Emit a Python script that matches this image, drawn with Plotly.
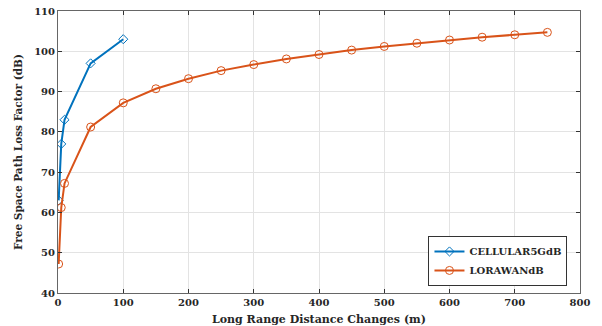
import plotly.graph_objects as go

cell_x = [1, 5, 10, 50, 100]
cell_y = [63, 77, 83, 97, 103]
lora_x = [1, 5, 10, 50, 100, 150, 200, 250, 300, 350, 400, 450, 500, 550, 600, 650, 700, 750]
lora_y = [47.2, 61.2, 67.2, 81.2, 87.2, 90.7, 93.2, 95.2, 96.7, 98.1, 99.2, 100.3, 101.2, 102.0, 102.8, 103.5, 104.1, 104.7]

font_fam = "DejaVu Serif, serif"

fig = go.Figure()
fig.add_trace(go.Scatter(x=cell_x, y=cell_y, mode="lines+markers", name="<b>CELLULAR5GdB</b>",
                         line=dict(color="#0072BD", width=2),
                         marker=dict(symbol="diamond-open", size=7, color="#0072BD", line=dict(width=1))))
fig.add_trace(go.Scatter(x=lora_x, y=lora_y, mode="lines+markers", name="<b>LORAWANdB</b>",
                         line=dict(color="#D95319", width=2),
                         marker=dict(symbol="circle-open", size=8, color="#D95319", line=dict(width=1))))

axis_common = dict(showline=True, mirror="ticks", linecolor="#666", linewidth=1,
                   ticks="inside", ticklen=4, tickcolor="#333", automargin=False,
                   showgrid=True, gridcolor="#e3e3e3", gridwidth=1, zeroline=False,
                   tickfont=dict(family=font_fam, size=10, color="#262626"),
                   tickprefix="<b>", ticksuffix="</b>")

fig.update_xaxes(range=[0, 800], dtick=100, **axis_common,
                 title=dict(text="<b>Long Range Distance Changes (m)</b>",
                            font=dict(family=font_fam, size=11, color="#262626")))
fig.update_yaxes(range=[40, 110], dtick=10, **axis_common)

fig.add_annotation(text="<b>Free Space Path Loss Factor (dB)</b>", textangle=-90,
                   xref="paper", yref="paper", x=-0.0766, y=0.5,
                   xanchor="center", yanchor="middle", showarrow=False,
                   font=dict(family=font_fam, size=10.5, color="#262626"))

fig.update_layout(width=602, height=326, margin=dict(l=58, r=22, t=11, b=33),
                  plot_bgcolor="white", paper_bgcolor="white",
                  legend=dict(x=0.976, y=0.025, xanchor="right", yanchor="bottom",
                              bordercolor="#333", borderwidth=1, bgcolor="white",
                              font=dict(family=font_fam, size=10, color="#262626"),
                              tracegroupgap=0, itemwidth=30),
                  showlegend=True)

fig.write_html("out.html")
